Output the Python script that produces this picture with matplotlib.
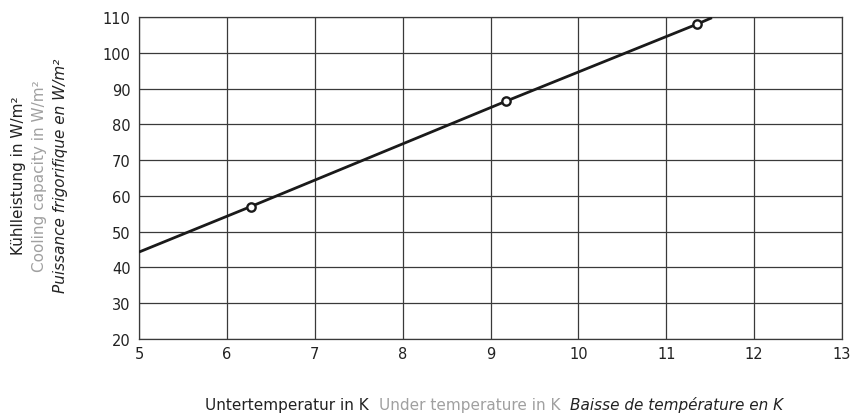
import matplotlib
matplotlib.use("Agg")
import matplotlib.pyplot as plt

# Data
line_x = [5.0, 6.27, 9.18, 11.35, 11.52]
line_y = [44.3, 57.0, 86.5, 108.0, 109.8]
point_x = [6.27, 9.18, 11.35]
point_y = [57.0, 86.5, 108.0]
x_ticks = [5, 6, 7, 8, 9, 10, 11, 12, 13]
y_ticks = [20, 30, 40, 50, 60, 70, 80, 90, 100, 110]
xlabel_parts = ["Untertemperatur in K", "Under temperature in K", "Baisse de température en K"]
ylabel_parts = ["Kühlleistung in W/m²", "Cooling capacity in W/m²", "Puissance frigorifique en W/m²"]

plt.rcParams['font.family'] = ['DejaVu Sans']
W, H = 860, 414
fig = plt.figure(figsize=(W / 100, H / 100), dpi=100)
ax = fig.add_axes([139 / W, 1 - 340 / H, (842 - 139) / W, (340 - 18) / H])

grid_c = '#3a3a3a'
ax.set_xlim(5, 13)
ax.set_ylim(20, 110)
ax.set_xticks(x_ticks)
ax.set_yticks(y_ticks)
ax.grid(True, color=grid_c, linewidth=0.9)
ax.set_axisbelow(True)
for s in ax.spines.values():
    s.set_color(grid_c)
    s.set_linewidth(0.9)
ax.tick_params(axis='both', length=0, labelsize=10.5, colors='#222222', pad=6)
ax.tick_params(axis='x', pad=5)

ax.plot(line_x, line_y, color='#1a1a1a', linewidth=2.0, solid_capstyle='butt', zorder=3, clip_on=True)
ax.plot(point_x, point_y, linestyle='none', marker='o', markersize=6, markerfacecolor='white',
        markeredgecolor='#1a1a1a', markeredgewidth=1.7, zorder=4)

# Y label: three rotated lines
yc = 1 - 176 / H
styles = [('#222222', 'normal'), ('#a0a0a0', 'normal'), ('#222222', 'italic')]
for px, txt, (c, st) in zip([19, 40, 60], ylabel_parts, styles):
    fig.text(px / W, yc, txt, rotation=90, ha='center', va='center', color=c, style=st, fontsize=11)

# X label: three pieces on one line
fig.canvas.draw()
r = fig.canvas.get_renderer()
texts = []
for txt, (c, st) in zip(xlabel_parts, styles):
    t = fig.text(0, 1 - 410 / H, txt, ha='left', va='baseline', color=c, style=st, fontsize=11)
    texts.append(t)
gap = 10
widths = [t.get_window_extent(r).width for t in texts]
total = sum(widths) + gap * (len(widths) - 1)
x0 = 494 - total / 2
for t, w in zip(texts, widths):
    t.set_x(x0 / W)
    x0 += w + gap

fig.savefig('out.png', dpi=100, facecolor='white')
